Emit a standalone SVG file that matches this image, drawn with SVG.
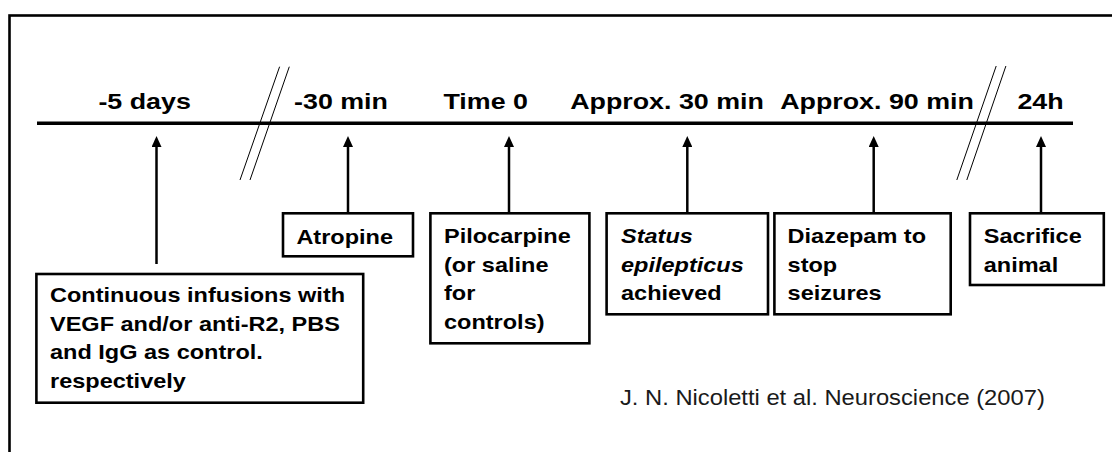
<svg xmlns="http://www.w3.org/2000/svg" width="1112" height="452" viewBox="0 0 1112 452">
  <defs>
    <marker id="arrow" markerUnits="userSpaceOnUse" markerWidth="11" markerHeight="10" refX="6" refY="5" orient="auto">
      <path d="M0,0 L11,5 L0,10 z" fill="#000"/>
    </marker>
    <style>
      .lbl { font-family: "Liberation Sans", Arial, sans-serif; font-weight: bold; font-size: 22px; fill: #000; text-anchor: middle; }
      .bt { font-family: "Liberation Sans", Arial, sans-serif; font-weight: bold; font-size: 21px; fill: #000; }
      .it { font-style: italic; }
      .box { fill: #fff; stroke: #000; stroke-width: 2.6; }
      .conn { stroke: #000; stroke-width: 2.5; fill: none; marker-end: url(#arrow); }
      .brk { stroke: #000; stroke-width: 1; }
      .cite { font-family: "Liberation Sans", Arial, sans-serif; font-size: 22px; fill: #1a1a1a; }
    </style>
  </defs>
  <rect x="0" y="0" width="1112" height="452" fill="#fff"/>
  <rect x="9.5" y="15.5" width="1120" height="460" fill="none" stroke="#000" stroke-width="2.6"/>

  <g id="timeline">
    <line x1="37" y1="123.3" x2="1073" y2="123.3" stroke="#000" stroke-width="3.6"/>
    <line class="brk" x1="279.6" y1="66.7" x2="240" y2="180"/>
    <line class="brk" x1="289.3" y1="66.7" x2="250" y2="180"/>
    <line class="brk" x1="996.2" y1="66" x2="956.8" y2="180"/>
    <line class="brk" x1="1005.9" y1="66" x2="966.8" y2="180"/>
  </g>

  <g id="labels">
    <text class="lbl" transform="translate(144.6,109) scale(1.22,1)">-5 days</text>
    <text class="lbl" transform="translate(341,109) scale(1.22,1)">-30 min</text>
    <text class="lbl" transform="translate(485.7,109) scale(1.22,1)">Time 0</text>
    <text class="lbl" transform="translate(667,109) scale(1.22,1)">Approx. 30 min</text>
    <text class="lbl" transform="translate(877,109) scale(1.22,1)">Approx. 90 min</text>
    <text class="lbl" transform="translate(1040.5,109) scale(1.22,1)">24h</text>
  </g>

  <g id="connectors">
    <line class="conn" x1="156.5" y1="264" x2="156.5" y2="141"/>
    <line class="conn" x1="348" y1="213" x2="348" y2="141"/>
    <line class="conn" x1="509" y1="213" x2="509" y2="141"/>
    <line class="conn" x1="687.3" y1="213" x2="687.3" y2="141"/>
    <line class="conn" x1="873.7" y1="213" x2="873.7" y2="141"/>
    <line class="conn" x1="1041" y1="213" x2="1041" y2="141"/>
  </g>

  <g id="node-infusions">
    <rect class="box" x="36.4" y="274" width="326.8" height="128.7"/>
    <g class="bt" transform="translate(50,0) scale(1.12,1)">
      <text x="0" y="302.5">Continuous infusions with</text>
      <text x="0" y="331">VEGF and/or anti-R2, PBS</text>
      <text x="0" y="359.5">and IgG as control.</text>
      <text x="0" y="388">respectively</text>
    </g>
  </g>

  <g id="node-atropine">
    <rect class="box" x="283" y="213.3" width="130" height="43"/>
    <text class="bt" transform="translate(296.4,243.5) scale(1.12,1)">Atropine</text>
  </g>

  <g id="node-pilocarpine">
    <rect class="box" x="430.4" y="213.3" width="159" height="130"/>
    <g class="bt" transform="translate(444,0) scale(1.12,1)">
      <text x="0" y="243.5">Pilocarpine</text>
      <text x="0" y="272">(or saline</text>
      <text x="0" y="300.5">for</text>
      <text x="0" y="329">controls)</text>
    </g>
  </g>

  <g id="node-status">
    <rect class="box" x="606.6" y="213.3" width="161.4" height="101"/>
    <g class="bt" transform="translate(621,0) scale(1.12,1)">
      <text class="it" x="0" y="243.5">Status</text>
      <text class="it" x="0" y="272">epilepticus</text>
      <text x="0" y="300.5">achieved</text>
    </g>
  </g>

  <g id="node-diazepam">
    <rect class="box" x="774.4" y="213.3" width="176.3" height="101"/>
    <g class="bt" transform="translate(787.6,0) scale(1.12,1)">
      <text x="0" y="243.5">Diazepam to</text>
      <text x="0" y="272">stop</text>
      <text x="0" y="300.5">seizures</text>
    </g>
  </g>

  <g id="node-sacrifice">
    <rect class="box" x="970" y="213.3" width="133.8" height="71.7"/>
    <g class="bt" transform="translate(983.7,0) scale(1.12,1)">
      <text x="0" y="243.5">Sacrifice</text>
      <text x="0" y="272">animal</text>
    </g>
  </g>

  <text class="cite" transform="translate(620,405) scale(1.08,1)">J. N. Nicoletti et al. Neuroscience (2007)</text>
</svg>
